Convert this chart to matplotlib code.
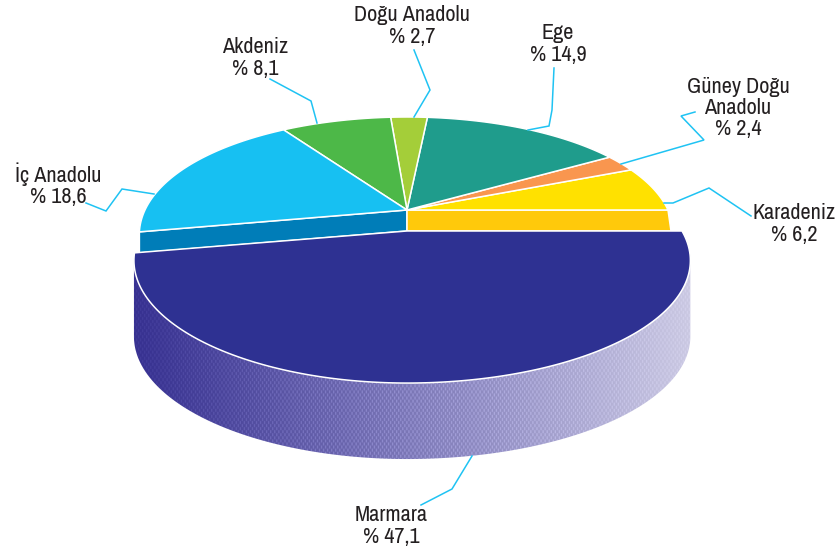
import numpy as np
import matplotlib
matplotlib.use("Agg")
import matplotlib.pyplot as plt
from matplotlib.patches import Polygon

# Data
regions = ["Karadeniz", "Güney Doğu Anadolu", "Ege", "Doğu Anadolu", "Akdeniz", "İç Anadolu"]
shares = [6.2, 2.4, 14.9, 2.7, 8.1, 18.6]
colors = ["#FFE100", "#F9964F", "#1F9C8C", "#A4CE39", "#4DB848", "#17C0F2"]
main_region = "Marmara"
main_share = 47.1
main_color = "#2E3192"

labels = [
    ("Doğu Anadolu\n% 2,7", 412, 26),
    ("Ege\n% 14,9", 558, 44),
    ("Güney Doğu\nAnadolu\n% 2,4", 738, 108),
    ("Karadeniz\n% 6,2", 794, 224),
    ("Marmara\n% 47,1", 391, 526),
    ("İç Anadolu\n% 18,6", 58, 185),
    ("Akdeniz\n% 8,1", 255, 58),
]
leaders = [
    ([414, 430, 414], [50, 90, 117]),
    ([554, 552, 549, 528], [68, 110, 126, 130]),
    ([695, 681, 704, 621], [112, 116, 140, 164]),
    ([751, 709, 673, 664], [216, 188, 203, 203]),
    ([421, 452, 472], [505, 489, 456]),
    ([86, 106, 122, 154], [203, 211, 189, 194]),
    ([270, 311, 317], [79, 101, 123]),
]

plt.rcParams["font.family"] = ["Archivo Narrow", "Barlow Condensed", "Liberation Sans", "DejaVu Sans"]
fig = plt.figure(figsize=(8.38, 5.57), dpi=100)
ax = fig.add_axes([0, 0, 1, 1])
ax.set_xlim(0, 838)
ax.set_ylim(557, 0)
ax.axis("off")

K = 0.241          # perspective strength
RY = 115.4

def rim(theta_deg, cx, cy, r_right, r_left, kx=K):
    t = np.radians(theta_deg)
    r = np.where(np.cos(t) >= 0, r_right, r_left)
    return cx + r * np.cos(t) / (1 + kx * np.sin(t)), cy - RY * np.sin(t) / (1 + K * np.sin(t))

# Upper group of slices
CX, CY = 407, 210
THICK = 21
R_R, R_L = 261, 262
KX_TOP = 0.205
edges = np.concatenate([[0], np.cumsum(shares) * 3.6])

# cut faces below the top slices
end_x, end_y = rim(edges[-1], CX, CY, R_R, R_L, KX_TOP)
ax.add_patch(Polygon([(CX, CY), (end_x, end_y), (end_x, end_y + THICK), (CX, CY + THICK)],
                     fc="#007DB8", ec="white", lw=1.1, zorder=1))
sx, sy = rim(0, CX, CY, R_R, R_L, KX_TOP)
ax.add_patch(Polygon([(CX, CY), (sx, sy), (sx + 3, sy + THICK), (CX, CY + THICK)],
                     fc="#FFC90B", ec="white", lw=1.1, zorder=1))

for a0, a1, c in zip(edges[:-1], edges[1:], colors):
    ts = np.linspace(a0, a1, 80)
    x, y = rim(ts, CX, CY, R_R, R_L, KX_TOP)
    pts = np.column_stack([np.r_[CX, x], np.r_[CY, y]])
    ax.add_patch(Polygon(pts, fc=c, ec="white", lw=1.1, zorder=2))

# Marmara: front slice, moved down
MX, MY = 407, 231
MR_R, MR_L = 275, 265
DEPTH = 76
ts = np.linspace(0, -main_share * 3.6, 300)
x, y = rim(ts, MX, MY, MR_R, MR_L)

# side wall between the two silhouette tangents, gradient and fine lozenge texture
tangent = np.degrees(np.arcsin(K))
tw = np.linspace(-tangent, -180 + tangent, 300)
wx, wy = rim(tw, MX, MY, MR_R, MR_L)
wall = Polygon(np.column_stack([np.r_[wx, wx[::-1]], np.r_[wy, wy[::-1] + DEPTH]]),
               fc="none", ec="none", zorder=3)
ax.add_patch(wall)
W, H = 556 * 2, 240 * 2
u = np.linspace(0, 1, W)
c0 = np.array([0x36, 0x30, 0x90]) / 255
c1 = np.array([0xCC, 0xCA, 0xE3]) / 255
base = c0[None, None, :] + (c1 - c0)[None, None, :] * (u[None, :, None] ** 1.1)
yy, xx = np.mgrid[0:H, 0:W]
tex = ((xx + (yy // 6 % 2) * 4) % 8 < 2).astype(float)[..., None]
img = np.clip(base + tex * 0.10 * np.sin(np.pi * u)[None, :, None] + tex * 0.04, 0, 1)
im = ax.imshow(img, extent=(130, 694, 470, 225), interpolation="bilinear", zorder=3, aspect="auto")
im.set_clip_path(wall)
ax.set_xlim(0, 838)
ax.set_ylim(557, 0)

ax.add_patch(Polygon(np.column_stack([np.r_[MX, x], np.r_[MY, y]]),
                     fc=main_color, ec="white", lw=1.1, zorder=4))

# leaders
for lx, ly in leaders:
    ax.plot(lx, ly, color="#1FC3F3", lw=1.1, zorder=5, solid_joinstyle="miter")

# labels
for text, lx, ly in labels:
    ax.text(lx, ly, text, ha="center", va="center", fontsize=16, color="#231F20",
            linespacing=1.08, zorder=6)

fig.savefig("out.png", dpi=100)
